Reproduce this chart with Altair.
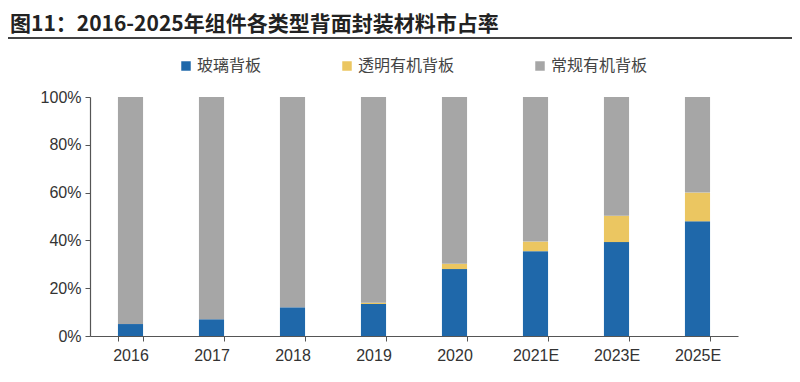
import altair as alt
import pandas as pd

years = ["2016", "2017", "2018", "2019", "2020", "2021E", "2023E", "2025E"]
glass = [5, 7, 12, 13.4, 28, 35.5, 39.3, 48]
transparent = [0, 0, 0, 0.5, 2.2, 4, 11, 12]
series = ["玻璃背板", "透明有机背板", "常规有机背板"]
colors = ["#1F68AA", "#EBC661", "#A6A6A6"]

rows = []
for y, g, t in zip(years, glass, transparent):
    rows.append({"year": y, "series": series[0], "value": g, "order": 0})
    rows.append({"year": y, "series": series[1], "value": t, "order": 1})
    rows.append({"year": y, "series": series[2], "value": round(100 - g - t, 2), "order": 2})
df = pd.DataFrame(rows)

FONT = "Noto Sans CJK SC"

bars = alt.Chart(df).mark_bar().encode(
    x=alt.X("year:N", sort=years, title=None,
            scale=alt.Scale(paddingInner=0.69, paddingOuter=0.345),
            axis=alt.Axis(labelAngle=0, labelFontSize=16, labelColor="#333333",
                          labelFont="Liberation Sans", labelPadding=6,
                          tickBand="extent", tickSize=5, tickColor="#555555",
                          domainColor="#555555", domainWidth=1.2)),
    y=alt.Y("value:Q", stack="zero", title=None,
            scale=alt.Scale(domain=[0, 100]),
            axis=alt.Axis(values=[0, 20, 40, 60, 80, 100],
                          labelExpr="datum.value + '%'",
                          labelFontSize=16, labelColor="#333333",
                          labelFont="Liberation Sans", labelPadding=4,
                          grid=False, tickSize=5, tickColor="#555555",
                          domainColor="#555555", domainWidth=1.2)),
    color=alt.Color("series:N", sort=series,
                    scale=alt.Scale(domain=series, range=colors),
                    legend=alt.Legend(title=None, orient="none", direction="horizontal",
                                      legendX=88, legendY=-39, symbolType="square",
                                      symbolSize=90, symbolStrokeWidth=0,
                                      labelFontSize=16, labelFont=FONT,
                                      labelColor="#444444", columnPadding=77,
                                      labelOffset=3)),
    order=alt.Order("order:Q"),
)

rule = alt.Chart(pd.DataFrame({"a": [0]})).mark_rule(color="#444444", strokeWidth=2).encode(
    x=alt.value(-82), x2=alt.value(702), y=alt.value(-59)
)

chart = alt.layer(bars, rule).properties(
    width=648, height=239,
    autosize=alt.AutoSizeParams(type="none"),
    padding={"left": 82, "top": 89, "right": 54, "bottom": 38},
    title=alt.TitleParams("图11：2016-2025年组件各类型背面封装材料市占率",
                          anchor="start", frame="group", dx=-80, offset=2,
                          font=FONT, fontSize=21, fontWeight="bold", color="#222222"),
).configure_view(stroke=None)

chart.save("out.html", embed_options={"renderer": "svg", "actions": False})
